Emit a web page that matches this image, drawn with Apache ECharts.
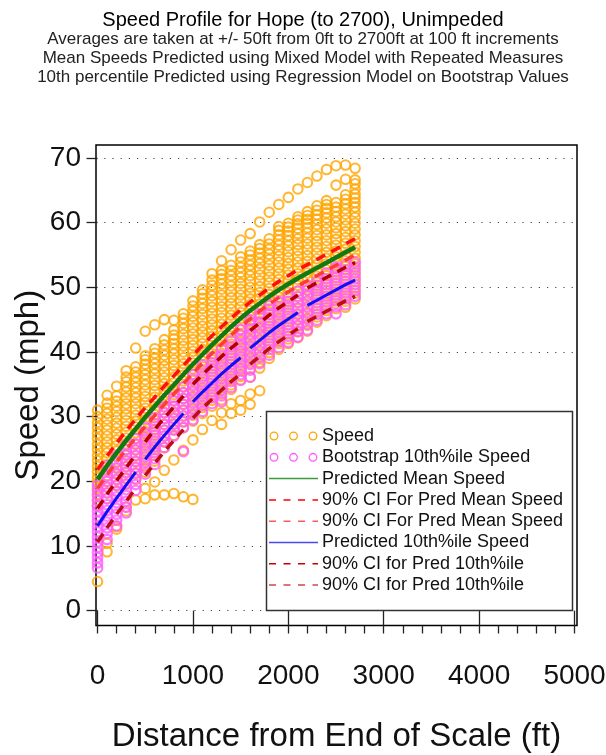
<!DOCTYPE html>
<html>
<head>
<meta charset="utf-8">
<title>Speed Profile for Hope (to 2700), Unimpeded</title>
<script src="https://cdn.jsdelivr.net/npm/echarts@6/dist/echarts.min.js"></script>
<style>
  html, body { margin: 0; padding: 0; background: #fff; }
  #chart { width: 606px; height: 755px; }
</style>
</head>
<body>
<div id="chart"></div>
<script>
// Distance bins (ft from end of scale), one column of observations per bin
const distances = [0, 100, 200, 300, 400, 500, 600, 700, 800, 900, 1000, 1100, 1200, 1300,
  1400, 1500, 1600, 1700, 1800, 1900, 2000, 2100, 2200, 2300, 2400, 2500, 2600, 2700];

// Observed speeds (mph) averaged over +/- 50 ft, per distance bin
const speedByDistance = [
  [4.5, 16.2, 17.1, 18.0, 18.9, 19.8, 20.6, 21.5, 22.3, 23.2, 24.0, 24.9, 25.7, 26.6, 27.4, 28.3, 29.1, 30.0, 31.0],
  [9.1, 10.4, 17.3, 18.2, 19.1, 20.0, 20.9, 21.8, 22.6, 23.5, 24.4, 25.2, 26.1, 27.0, 27.9, 28.7, 29.6, 30.5, 31.3, 32.1, 33.3],
  [12.6, 13.0, 18.4, 19.3, 20.2, 21.1, 22.0, 22.9, 23.8, 24.7, 25.5, 26.4, 27.3, 28.2, 29.0, 29.9, 30.8, 31.6, 32.4, 33.2, 34.7],
  [15.4, 16.0, 19.5, 20.4, 21.3, 22.2, 23.1, 24.0, 24.9, 25.8, 26.7, 27.6, 28.5, 29.4, 30.3, 31.2, 32.0, 32.9, 33.8, 34.6, 35.4, 36.1, 37.1],
  [17.1, 20.3, 21.2, 22.1, 23.0, 23.9, 24.8, 25.7, 26.6, 27.5, 28.4, 29.3, 30.2, 31.1, 32.0, 32.9, 33.7, 34.5, 35.3, 36.1, 36.9, 37.7, 40.6],
  [17.3, 18.9, 21.4, 22.3, 23.2, 24.1, 25.0, 25.9, 26.8, 27.7, 28.6, 29.5, 30.4, 31.3, 32.2, 33.1, 34.0, 34.9, 35.7, 36.5, 37.3, 38.1, 38.8, 39.4, 43.2],
  [17.9, 19.9, 23.1, 24.0, 24.9, 25.8, 26.7, 27.6, 28.5, 29.4, 30.3, 31.2, 32.1, 33.0, 33.9, 34.8, 35.7, 36.6, 37.4, 38.2, 39.0, 39.8, 40.5, 44.2],
  [17.9, 21.7, 25.2, 26.1, 27.0, 27.9, 28.8, 29.7, 30.6, 31.5, 32.4, 33.3, 34.2, 35.1, 36.0, 36.9, 37.8, 38.7, 39.5, 40.3, 41.1, 41.9, 45.0],
  [18.1, 23.3, 27.1, 28.0, 28.9, 29.8, 30.7, 31.6, 32.5, 33.4, 34.3, 35.2, 36.1, 37.0, 37.9, 38.8, 39.7, 40.5, 41.3, 42.0, 42.6, 43.4, 44.9],
  [17.6, 24.8, 28.3, 29.2, 30.1, 31.0, 31.9, 32.8, 33.7, 34.6, 35.5, 36.4, 37.3, 38.2, 39.1, 40.0, 40.9, 41.8, 42.7, 43.6, 44.4, 45.2, 45.9],
  [17.2, 26.4, 29.3, 30.2, 31.1, 32.0, 32.9, 33.8, 34.7, 35.6, 36.5, 37.4, 38.3, 39.2, 40.1, 41.0, 41.9, 42.8, 43.7, 44.6, 45.5, 46.3, 47.1, 47.9],
  [28.0, 30.5, 31.4, 32.3, 33.2, 34.1, 35.0, 35.9, 36.8, 37.7, 38.6, 39.5, 40.4, 41.3, 42.2, 43.1, 44.0, 44.9, 45.8, 46.7, 47.5, 48.3, 49.0, 49.6],
  [29.4, 31.6, 32.5, 33.4, 34.3, 35.2, 36.1, 37.0, 37.9, 38.8, 39.7, 40.6, 41.5, 42.4, 43.3, 44.2, 45.1, 46.0, 46.9, 47.8, 48.7, 49.5, 50.3, 51.1, 52.1],
  [28.8, 30.6, 32.6, 33.5, 34.4, 35.3, 36.2, 37.1, 38.0, 38.9, 39.8, 40.7, 41.6, 42.5, 43.4, 44.3, 45.2, 46.1, 47.0, 47.9, 48.8, 49.7, 50.5, 51.3, 52.0, 52.6, 54.1],
  [30.5, 32.0, 34.2, 34.9, 35.8, 36.7, 37.6, 38.5, 39.4, 40.3, 41.2, 42.1, 43.0, 43.9, 44.8, 45.7, 46.6, 47.5, 48.4, 49.3, 50.2, 51.0, 51.8, 52.6, 53.4, 55.8],
  [31.0, 32.5, 35.7, 36.2, 37.1, 38.0, 38.9, 39.8, 40.7, 41.6, 42.5, 43.4, 44.3, 45.2, 46.1, 47.0, 47.9, 48.8, 49.7, 50.6, 51.5, 52.3, 53.1, 53.9, 54.7, 57.3],
  [31.9, 33.5, 36.1, 37.4, 38.3, 39.2, 40.1, 41.0, 41.9, 42.8, 43.7, 44.6, 45.5, 46.4, 47.3, 48.2, 49.1, 50.0, 50.9, 51.8, 52.6, 53.4, 54.2, 55.0, 55.6, 58.3],
  [34.0, 37.5, 38.4, 39.3, 40.2, 41.1, 42.0, 42.9, 43.8, 44.7, 45.6, 46.5, 47.4, 48.3, 49.2, 50.1, 51.0, 51.9, 52.8, 53.7, 54.5, 55.3, 56.0, 56.6, 60.1],
  [39.0, 39.9, 40.8, 41.7, 42.6, 43.5, 44.4, 45.3, 46.2, 47.1, 48.0, 48.9, 49.8, 50.7, 51.6, 52.5, 53.4, 54.3, 55.1, 55.9, 56.7, 57.5, 61.6],
  [40.4, 41.3, 42.2, 43.1, 44.0, 44.9, 45.8, 46.7, 47.6, 48.5, 49.4, 50.3, 51.2, 52.1, 53.0, 53.9, 54.8, 55.7, 56.5, 57.3, 58.1, 58.8, 59.4, 62.8],
  [41.3, 42.0, 42.9, 43.8, 44.7, 45.6, 46.5, 47.4, 48.3, 49.2, 50.1, 51.0, 51.9, 52.8, 53.7, 54.6, 55.5, 56.4, 57.2, 58.0, 58.7, 59.3, 59.9, 63.9],
  [42.2, 43.1, 44.0, 44.9, 45.8, 46.7, 47.6, 48.5, 49.4, 50.3, 51.2, 52.1, 53.0, 53.9, 54.8, 55.7, 56.6, 57.5, 58.3, 59.1, 59.8, 60.4, 60.9, 65.2],
  [43.2, 44.1, 45.0, 45.9, 46.8, 47.7, 48.6, 49.5, 50.4, 51.3, 52.2, 53.1, 54.0, 54.9, 55.8, 56.7, 57.6, 58.4, 59.2, 59.9, 60.5, 61.1, 61.7, 66.2],
  [44.6, 45.4, 46.3, 47.2, 48.1, 49.0, 49.9, 50.8, 51.7, 52.6, 53.5, 54.4, 55.3, 56.2, 57.1, 58.0, 58.9, 59.7, 60.5, 61.2, 61.9, 62.6, 67.2],
  [45.6, 46.4, 47.3, 48.2, 49.1, 50.0, 50.9, 51.8, 52.7, 53.6, 54.5, 55.4, 56.3, 57.2, 58.1, 59.0, 59.9, 60.7, 61.5, 62.2, 62.8, 63.4, 68.2],
  [46.7, 47.5, 48.4, 49.3, 50.2, 51.1, 52.0, 52.9, 53.8, 54.7, 55.6, 56.5, 57.4, 58.3, 59.2, 60.1, 60.9, 61.7, 62.4, 63.1, 65.8, 68.8],
  [46.9, 47.8, 48.7, 49.6, 50.5, 51.4, 52.3, 53.2, 54.1, 55.0, 55.9, 56.8, 57.7, 58.6, 59.5, 60.4, 61.3, 62.1, 62.9, 63.6, 64.3, 66.7, 68.9],
  [48.2, 49.1, 50.0, 50.9, 51.8, 52.7, 53.6, 54.5, 55.4, 56.3, 57.2, 58.1, 59.0, 59.9, 60.8, 61.6, 62.4, 63.1, 63.8, 64.4, 65.2, 66.0, 66.6, 68.4]
];

// Bootstrap estimates of the 10th percentile speed (mph), per distance bin
const bootstrapByDistance = [
  [6.6, 7.4, 8.2, 9.0, 9.8, 10.6, 11.4, 12.2, 13.0, 13.8, 14.6, 15.4, 16.2, 17.0, 17.8, 18.6, 19.4],
  [11.0, 11.9, 12.8, 13.7, 14.6, 15.5, 16.4, 17.3, 18.2, 19.1, 20.0, 20.8, 21.6, 22.4],
  [13.1, 14.0, 14.9, 15.8, 16.7, 17.6, 18.5, 19.4, 20.3, 21.2, 22.1, 23.0, 23.9],
  [15.1, 16.0, 16.9, 17.8, 18.7, 19.6, 20.5, 21.4, 22.3, 23.2, 24.1, 24.9, 25.6],
  [18.6, 19.5, 20.4, 21.3, 22.2, 23.1, 24.0, 24.9, 25.8, 26.6],
  [21.1, 22.0, 22.9, 23.8, 24.7, 25.6, 26.5, 27.4, 28.3],
  [22.6, 23.5, 24.4, 25.3, 26.2, 27.1, 28.0, 28.9, 29.8],
  [25.2, 26.1, 27.0, 27.9, 28.8, 29.7, 30.6, 31.5],
  [27.0, 27.9, 28.8, 29.7, 30.6, 31.5, 32.4, 33.0],
  [24.6, 28.3, 29.2, 30.1, 31.0, 31.9, 32.8, 33.7, 34.6],
  [29.5, 30.4, 31.3, 32.2, 33.1, 34.0, 34.9, 35.8, 36.5],
  [30.8, 31.7, 32.6, 33.5, 34.4, 35.3, 36.2, 37.1, 38.0],
  [32.0, 32.9, 33.8, 34.7, 35.6, 36.5, 37.4, 38.3, 39.2],
  [32.3, 33.2, 34.1, 35.0, 35.9, 36.8, 37.7, 38.6, 39.5, 40.4],
  [34.5, 35.4, 36.3, 37.2, 38.1, 39.0, 39.9, 40.8, 41.7],
  [35.6, 36.5, 37.4, 38.3, 39.2, 40.1, 41.0, 41.9, 42.7, 43.5],
  [36.1, 37.2, 38.1, 39.0, 39.9, 40.8, 41.7, 42.6, 43.5, 44.3, 44.9],
  [38.2, 39.1, 40.0, 40.9, 41.8, 42.7, 43.6, 44.5, 45.3, 45.9],
  [39.5, 40.4, 41.3, 42.2, 43.1, 44.0, 44.9, 45.8, 46.6, 47.3],
  [40.7, 41.6, 42.5, 43.4, 44.3, 45.2, 46.1, 47.0, 47.8],
  [41.5, 42.4, 43.3, 44.2, 45.1, 46.0, 46.9, 47.8, 48.6],
  [42.3, 43.2, 44.1, 45.0, 45.9, 46.8, 47.7, 48.6, 49.4],
  [43.4, 44.3, 45.2, 46.1, 47.0, 47.9, 48.8, 49.6, 50.2],
  [44.9, 45.8, 46.7, 47.6, 48.5, 49.4, 50.3, 51.0],
  [45.9, 46.8, 47.7, 48.6, 49.5, 50.4, 51.3, 52.2],
  [45.9, 47.0, 47.9, 48.8, 49.7, 50.6, 51.5, 52.4, 53.1],
  [47.3, 48.2, 49.1, 50.0, 50.9, 51.8, 52.7, 53.5],
  [48.6, 49.5, 50.4, 51.3, 52.2, 53.1, 53.9]
];

// Mixed-model predicted mean speed and its 90% confidence band (mph)
const predictedMean = [20.3, 22.4, 24.4, 26.3, 28.1, 29.9, 31.6, 33.3, 34.9, 36.5, 38.1, 39.6, 41.1, 42.5,
  43.9, 45.2, 46.4, 47.5, 48.6, 49.6, 50.5, 51.4, 52.2, 53.0, 53.8, 54.6, 55.4, 56.2];
const meanCIUpper = [21.8, 23.9, 25.9, 27.8, 29.6, 31.4, 33.0, 34.7, 36.3, 37.9, 39.5, 41.0, 42.5, 43.9,
  45.2, 46.5, 47.7, 48.8, 49.9, 50.9, 51.8, 52.7, 53.5, 54.3, 55.1, 55.9, 56.7, 57.5];
const meanCILower = [18.9, 21.0, 23.0, 24.9, 26.7, 28.5, 30.2, 31.9, 33.5, 35.1, 36.7, 38.3, 39.8, 41.2,
  42.6, 43.9, 45.1, 46.3, 47.4, 48.4, 49.3, 50.2, 51.0, 51.8, 52.6, 53.4, 54.2, 55.0];

// Regression on bootstrap values: predicted 10th percentile speed and its 90% band (mph)
const predicted10th = [13.1, 15.3, 17.4, 19.4, 21.4, 23.4, 25.3, 27.1, 28.8, 30.5, 32.3, 33.8, 35.2, 36.6,
  37.9, 39.1, 40.6, 41.8, 43.0, 44.1, 45.1, 46.1, 47.2, 48.0, 48.8, 49.6, 50.4, 51.1];
const p10CIUpper = [15.8, 18.0, 20.1, 22.1, 24.1, 26.1, 28.0, 29.8, 31.5, 33.2, 35.0, 36.5, 37.9, 39.3,
  40.6, 41.8, 43.3, 44.5, 45.7, 46.8, 47.8, 48.8, 49.9, 50.7, 51.5, 52.3, 53.1, 53.8];
const p10CILower = [10.6, 12.8, 14.9, 16.9, 18.9, 20.9, 22.8, 24.6, 26.3, 28.0, 29.8, 31.3, 32.7, 34.1,
  35.4, 36.6, 38.1, 39.3, 40.5, 41.6, 42.6, 43.6, 44.7, 45.5, 46.3, 47.1, 47.9, 48.6];

// The 10th percentile regression is fitted separately over these distance ranges (ft)
const p10Pieces = [[0, 400], [500, 900], [1000, 1500], [1600, 2100], [2200, 2700]];

// Axis ticks
const xMajorTicks = [0, 1000, 2000, 3000, 4000, 5000];
const xMinorTicks = [0, 200, 400, 600, 800, 1000, 1200, 1400, 1600, 1800, 2000, 2200, 2400, 2600, 2800,
  3000, 3200, 3400, 3600, 3800, 4000, 4200, 4400, 4600, 4800, 5000];
const yTicks = [0, 10, 20, 30, 40, 50, 60, 70];

// Titles
const mainTitle = 'Speed Profile for Hope (to 2700), Unimpeded';
const subtitleLines = [
  'Averages are taken at +/- 50ft from 0ft to 2700ft at 100 ft increments',
  'Mean Speeds Predicted using Mixed Model with Repeated Measures',
  '10th percentile Predicted using Regression Model on Bootstrap Values'
];

// Legend entries, top to bottom
const legendLabels = ['Speed', 'Bootstrap 10th%ile Speed', 'Predicted Mean Speed',
  '90% CI For Pred Mean Speed', '90% CI For Pred Mean Speed', 'Predicted 10th%ile Speed',
  '90% CI for Pred 10th%ile', '90% CI for Pred 10th%ile'];

const FONT = "'Liberation Sans', Arial, Helvetica, sans-serif";

const COLORS = {
  speed: '#FFA500',
  boot: '#FF5BFF',
  mean: '#137A13',
  meanCI1: '#FF1010',
  meanCI2: '#FF3A3A',
  p10: '#1010F5',
  p10CI1: '#B40000',
  p10CI2: '#BC1010'
};

const speedPoints = [];
distances.forEach((d, i) => speedByDistance[i].forEach(v => speedPoints.push([d, v])));
const bootPoints = [];
distances.forEach((d, i) => bootstrapByDistance[i].forEach(v => bootPoints.push([d, v])));

const pairs = values => distances.map((d, i) => [d, values[i]]);
const inPiece = (values, piece) => pairs(values).filter(p => p[0] >= piece[0] && p[0] <= piece[1]);

function lineSeries(name, data, color, width, dashed) {
  return {
    name: name,
    type: 'line',
    data: data,
    symbol: 'none',
    silent: true,
    lineStyle: { color: color, width: width, type: dashed ? [10, 7] : 'solid', cap: 'butt' }
  };
}

const series = [
  {
    name: 'Speed',
    type: 'scatter',
    data: speedPoints,
    symbol: 'circle',
    symbolSize: 9.5,
    silent: true,
    itemStyle: { color: 'rgba(255,255,255,0)', borderColor: COLORS.speed, borderWidth: 2.1 }
  },
  {
    name: 'Bootstrap 10th%ile Speed',
    type: 'scatter',
    data: bootPoints,
    symbol: 'circle',
    symbolSize: 9.5,
    silent: true,
    itemStyle: { color: 'rgba(255,255,255,0)', borderColor: COLORS.boot, borderWidth: 2.3 }
  },
  lineSeries('Predicted Mean Speed', pairs(predictedMean), COLORS.mean, 4.5, false),
  lineSeries('90% CI For Pred Mean Speed', pairs(meanCIUpper), COLORS.meanCI1, 3.5, true),
  lineSeries('90% CI For Pred Mean Speed (lower)', pairs(meanCILower), COLORS.meanCI2, 3.5, true)
];
p10Pieces.forEach(piece => {
  series.push(lineSeries('Predicted 10th%ile Speed', inPiece(predicted10th, piece), COLORS.p10, 3, false));
  series.push(lineSeries('90% CI for Pred 10th%ile', inPiece(p10CIUpper, piece), COLORS.p10CI1, 3.5, true));
  series.push(lineSeries('90% CI for Pred 10th%ile (lower)', inPiece(p10CILower, piece), COLORS.p10CI2, 3.5, true));
});

// Boxed legend drawn in the lower right of the plot
const legendStyles = [
  { kind: 'circles', color: '#FFA500' },
  { kind: 'circles', color: '#FF5BFF' },
  { kind: 'solid', color: '#3C9A3C' },
  { kind: 'dash', color: '#FF0000' },
  { kind: 'dash', color: '#FF5A5A' },
  { kind: 'solid', color: '#4848F0' },
  { kind: 'dash', color: '#C80000' },
  { kind: 'dash', color: '#D04848' }
];
const legendBox = { x: 266.5, y: 411.5, w: 306, h: 199 };
const graphics = [{
  type: 'rect', z: 100,
  shape: { x: legendBox.x, y: legendBox.y, width: legendBox.w, height: legendBox.h },
  style: { fill: '#ffffff', stroke: '#333333', lineWidth: 1.5 }
}];
legendLabels.forEach((label, i) => {
  const cy = 436 + i * 21.3;
  const st = legendStyles[i];
  if (st.kind === 'circles') {
    [274, 293.5, 313].forEach(cx => graphics.push({
      type: 'circle', z: 101, shape: { cx: cx, cy: cy, r: 3.8 },
      style: { fill: '#ffffff', stroke: st.color, lineWidth: 1.3 }
    }));
  } else {
    graphics.push({
      type: 'line', z: 101, shape: { x1: 269, y1: cy, x2: 318, y2: cy },
      style: { stroke: st.color, lineWidth: 1.5, lineDash: st.kind === 'dash' ? [7, 7.5] : null }
    });
  }
  graphics.push({
    type: 'text', z: 101, x: 322, y: cy,
    style: { text: label, fill: '#111111', font: '18px ' + FONT, verticalAlign: 'middle', align: 'left' }
  });
});

const titles = [{
  text: mainTitle, left: 'center', top: 4,
  textStyle: { fontFamily: FONT, fontSize: 20, fontWeight: 'normal', color: '#000', lineHeight: 22 }
}];
subtitleLines.forEach((line, i) => titles.push({
  text: line, left: 'center', top: 24.5 + i * 19,
  textStyle: { fontFamily: FONT, fontSize: 17, fontWeight: 'normal', color: '#222', lineHeight: 19 }
}));

const chart = echarts.init(document.getElementById('chart'), null, { renderer: 'canvas' });
chart.setOption({
  animation: false,
  backgroundColor: '#ffffff',
  textStyle: { fontFamily: FONT },
  title: titles,
  grid: {
    left: 96, right: 29, top: 145, bottom: 129.5,
    show: true, borderColor: '#000', borderWidth: 1.5, backgroundColor: '#fff',
    containLabel: false, outerBoundsMode: 'none'
  },
  xAxis: [
    {
      type: 'value', min: -16, max: 5026, position: 'bottom',
      name: 'Distance from End of Scale (ft)', nameLocation: 'middle', nameGap: 95, nameMoveOverlap: false,
      nameTextStyle: { fontFamily: FONT, fontSize: 33, color: '#111' },
      axisLine: { show: false },
      axisTick: { show: true, customValues: xMajorTicks, length: 15, lineStyle: { color: '#222', width: 1.3 } },
      axisLabel: { customValues: xMajorTicks, fontFamily: FONT, fontSize: 28, color: '#111', margin: 37,
        formatter: v => String(v) },
      splitLine: { show: false }
    },
    {
      type: 'value', min: -16, max: 5026, position: 'bottom',
      axisLine: { show: false },
      axisTick: { show: true, customValues: xMinorTicks, length: 8, lineStyle: { color: '#222', width: 1.3 } },
      axisLabel: { show: false },
      splitLine: { show: false }
    }
  ],
  yAxis: {
    type: 'value', min: -2.3, max: 72,
    name: 'Speed (mph)', nameLocation: 'middle', nameGap: 51, nameRotate: 90, nameMoveOverlap: false,
    nameTextStyle: { fontFamily: FONT, fontSize: 33, color: '#111' },
    axisLine: { show: false },
    axisTick: { show: true, customValues: yTicks, length: 11, lineStyle: { color: '#222', width: 1.3 } },
    axisLabel: { customValues: yTicks, fontFamily: FONT, fontSize: 28, color: '#111', margin: 15,
      formatter: v => String(v) },
    splitLine: { show: true, lineStyle: { color: '#444', width: 1, type: [1.2, 7] } }
  },
  series: series,
  graphic: { elements: graphics }
});
</script>
</body>
</html>
